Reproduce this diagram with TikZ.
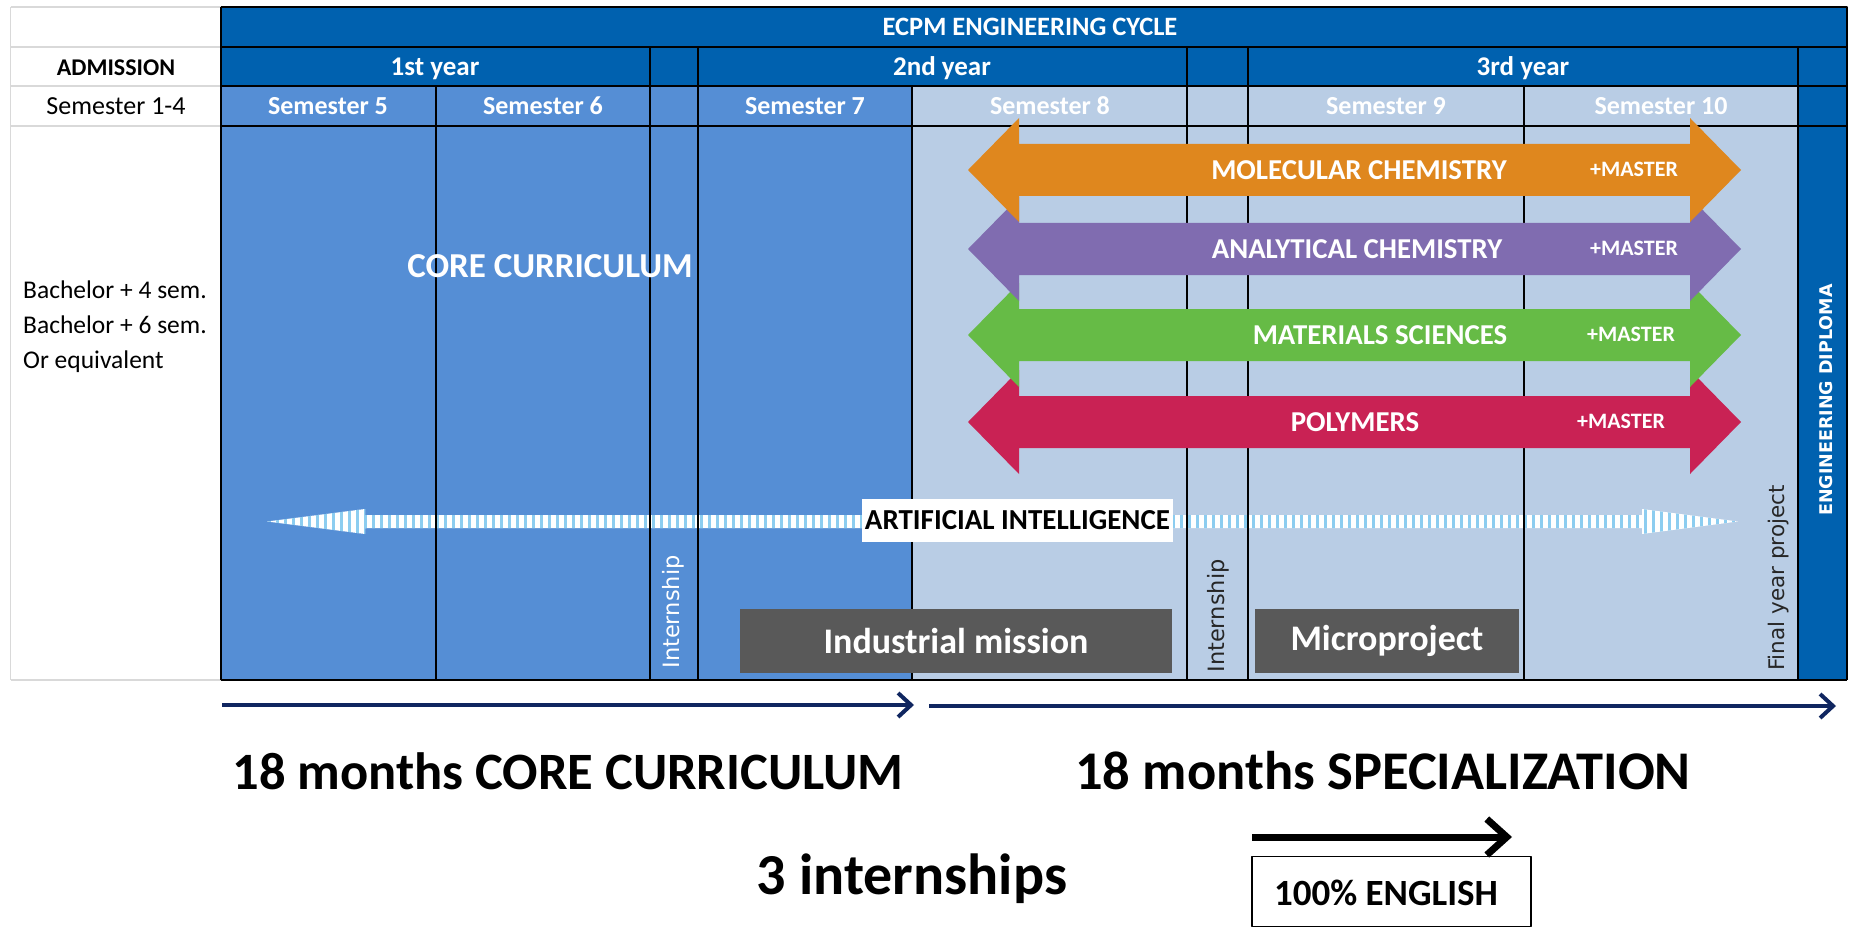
\documentclass[tikz,border=0pt]{standalone}
\usepackage{fontspec}
\setmainfont{Carlito}
\newfontfamily\verdfont{DejaVu Sans}
\usetikzlibrary{arrows.meta}
\definecolor{cycleblue}{RGB}{0,97,175}
\definecolor{coreblue}{RGB}{85,142,213}
\definecolor{specblue}{RGB}{185,205,229}
\definecolor{aiblue}{RGB}{140,205,240}
\definecolor{molorange}{RGB}{223,135,30}
\definecolor{anapurple}{RGB}{128,108,176}
\definecolor{matgreen}{RGB}{102,187,70}
\definecolor{polred}{RGB}{201,34,84}
\definecolor{boxgray}{RGB}{89,89,89}
\definecolor{navyline}{RGB}{16,38,96}
\definecolor{gridgray}{RGB}{217,217,217}
\definecolor{darktext}{RGB}{38,38,38}
\newcommand{\fsz}[1]{\fontsize{#1}{#1}\selectfont}
\tikzset{
  head/.style={text=white,anchor=base,font=\bfseries\fsz{26}},
  plain/.style={anchor=base,font=\fsz{25.5}},
  vtext/.style={rotate=90,font=\verdfont\fsz{22.5}},
  graybox/.style={fill=boxgray,text=white,font=\bfseries\fsz{36},minimum height=64},
  grid/.style={line width=1.6},
}
\begin{document}
\begin{tikzpicture}[x=1pt,y=-1pt,line join=round]
\useasboundingbox (0,0) rectangle (1850,928);
% left admission column
\foreach \ry in {7,47,86,126,680} \draw[gridgray,line width=1.5] (10.6,\ry)--(221,\ry);
\draw[gridgray,line width=1.5] (10.6,7)--(10.6,680);
% table fills
\fill[cycleblue] (221,7) rectangle (1847,86);
\fill[coreblue] (221,86) rectangle (912,680);
\fill[specblue] (912,86) rectangle (1798,680);
\fill[cycleblue] (1798,86) rectangle (1847,680);
% artificial intelligence arrow
\begin{scope}
\clip (267,521.5)--(365,509)--(365,515)--(1642,515)--(1642,509)--(1738,521.5)--(1642,534)--(1642,528)--(365,528)--(365,534)--cycle;
\fill[white] (260,500) rectangle (1745,540);
\foreach \sx in {268,276,...,1740} \fill[aiblue] (\sx,500) rectangle ++(3,40);
\end{scope}
% grid
\foreach \gx in {650,698,1187,1248,1798} \draw[grid] (\gx,47)--(\gx,86);
\foreach \gx in {436,650,698,912,1187,1248,1524,1798} \draw[grid] (\gx,86)--(\gx,680);
\foreach \gy in {47,86,126} \draw[grid] (221,\gy)--(1847,\gy);
\draw[grid] (221,7)--(1847,7)--(1847,680);
\draw[grid] (221,7)--(221,680);
\draw[line width=2.5] (221,680)--(1847,680);
% headings
\node[head,font=\bfseries\fsz{26.5}] (cycle) at (1030,36) {ECPM ENGINEERING CYCLE};
\node[plain,font=\bfseries\fsz{24}] (adm) at (116,76) {ADMISSION};
\foreach \cx/\yr in {435/1st year,942/2nd year,1523/3rd year} \node[head,font=\bfseries\fsz{27}] (yr\cx) at (\cx,76) {\yr};
\node[plain,font=\fsz{26}] (sem) at (116,115) {Semester 1-4};
\foreach \cx/\n in {328/5,543/6,805/7,1050/8,1386/9,1661/10} \node[head] (sem\n) at (\cx,115) {Semester \n};
\foreach \ly/\txt in {298/Bachelor + 4 sem.,333/Bachelor + 6 sem.,368/Or equivalent} \node[plain,anchor=base west,inner xsep=0] (adm\ly) at (23,\ly) {\txt};
\node[head,font=\bfseries\fsz{35}] (core) at (550,277) {CORE CURRICULUM};
% specialisations
\foreach \cy/\col/\lx/\lab/\mx in {422/polred/1355/POLYMERS/1621,335/matgreen/1380/MATERIALS SCIENCES/1631,249/anapurple/1357/ANALYTICAL CHEMISTRY/1634,170/molorange/1359/MOLECULAR CHEMISTRY/1634}{
  \fill[\col] (968,\cy)--(1019,\cy-52)--(1019,\cy-26)--(1690,\cy-26)--(1690,\cy-52)--(1741,\cy)--(1690,\cy+52)--(1690,\cy+26)--(1019,\cy+26)--(1019,\cy+52)--cycle;
  \node[text=white,font=\bfseries\fsz{28.8}] (spec\cy) at (\lx,\cy) {\lab};
  \node[text=white,font=\bfseries\fsz{22}] (mast\cy) at (\mx,\cy-1) {+MASTER};
}
\node[fill=white,minimum width=311,minimum height=43,inner xsep=0,font=\bfseries\fsz{29}] (ai) at (1017.5,520.5) {ARTIFICIAL INTELLIGENCE};
% internships and projects
\node[vtext,text=white] (int1) at (673,612) {Internship};
\node[vtext,text=darktext] (int2) at (1218,616) {Internship};
\node[vtext,text=darktext,font=\verdfont\fsz{21.5}] (fyp) at (1779,578) {Final year project};
\node[rotate=90,text=white,font=\verdfont\bfseries\fsz{17.5}] (dipl) at (1826,400) {ENGINEERING DIPLOMA};
\node[graybox,minimum width=432] (ind) at (956,641) {Industrial mission};
\node[graybox,minimum width=264] (micro) at (1387,641) {Microproject};
% bottom
\coordinate (c0) at (222,705); \coordinate (c1) at (914,705);
\coordinate (s0) at (929,706); \coordinate (s1) at (1836,706);
\draw[navyline,line width=4,-{Straight Barb[length=13pt,width=24pt]}] (c0)--(c1);
\draw[navyline,line width=4,-{Straight Barb[length=13pt,width=24pt]}] (s0)--(s1);
\node[anchor=base,font=\bfseries\fsz{52.5}] (coretitle) at (568,789) {18 months CORE CURRICULUM};
\node[anchor=base,font=\bfseries\fsz{54.5}] (spectitle) at (1383,789) {18 months SPECIALIZATION};
\node[anchor=base,font=\bfseries\fsz{58}] (intern) at (912,894) {3 internships};
\coordinate (e0) at (1252,837); \coordinate (e1) at (1512,837);
\draw[line width=7,-{Straight Barb[length=20pt,width=36pt]}] (e0)--(e1);
\node[draw,line width=1.5,minimum width=279,minimum height=70] (eng) at (1391.5,891.5) {};
\node[anchor=base,font=\bfseries\fsz{37}] (englab) at (1386,905) {100\% ENGLISH};
\end{tikzpicture}
\end{document}
